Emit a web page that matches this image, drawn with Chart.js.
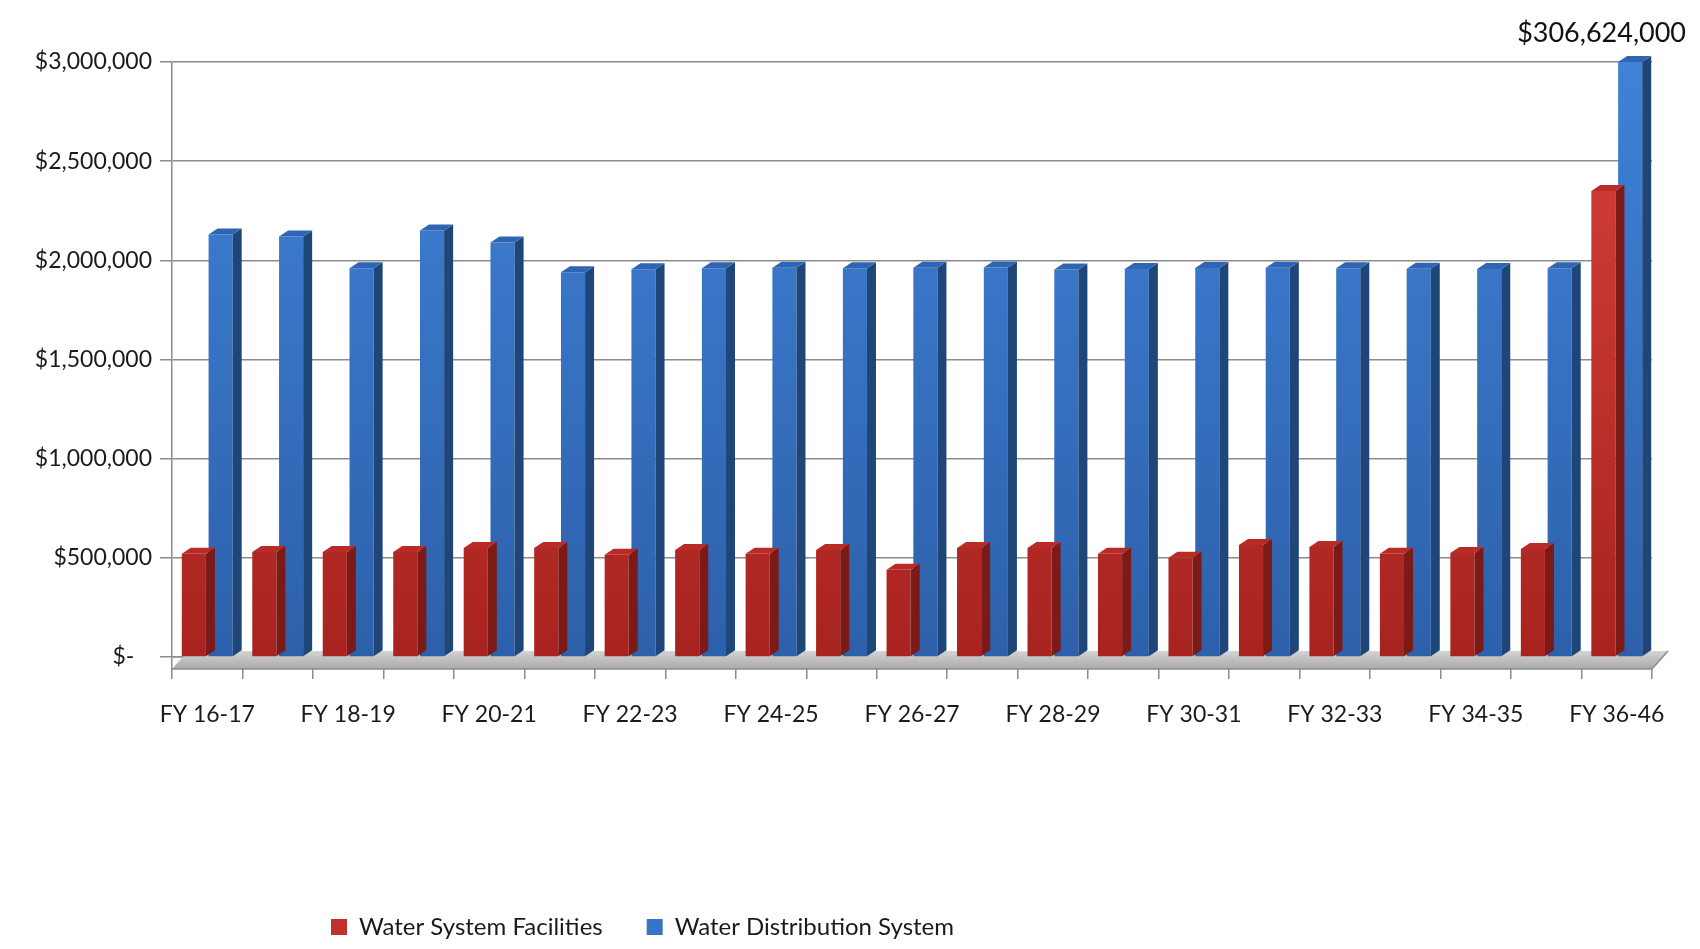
<!DOCTYPE html>
<html>
<head>
<meta charset="utf-8">
<script src="https://cdn.jsdelivr.net/npm/chart.js@4.4.1/dist/chart.umd.min.js"></script>
<style>
  html, body { margin: 0; padding: 0; background: #ffffff; }
  #wrap { width: 1700px; height: 949px; position: relative; }
</style>
</head>
<body>
<div id="wrap"><canvas id="c" width="1700" height="949"></canvas></div>
<script>
// ---- data ----
const categories = [
  'FY 16-17', 'FY 17-18', 'FY 18-19', 'FY 19-20', 'FY 20-21', 'FY 21-22', 'FY 22-23',
  'FY 23-24', 'FY 24-25', 'FY 25-26', 'FY 26-27', 'FY 27-28', 'FY 28-29', 'FY 29-30',
  'FY 30-31', 'FY 31-32', 'FY 32-33', 'FY 33-34', 'FY 34-35', 'FY 35-36', 'FY 36-46'
];
const seriesNames = ['Water System Facilities', 'Water Distribution System'];
const facilities = [
  520000, 530000, 530000, 530000, 550000, 550000, 515000,
  540000, 520000, 540000, 440000, 550000, 550000, 520000,
  500000, 565000, 555000, 520000, 525000, 545000, 2350000
];
const distribution = [
  2130000, 2120000, 1960000, 2150000, 2090000, 1940000, 1955000,
  1960000, 1962000, 1960000, 1962000, 1964000, 1954000, 1956000,
  1961000, 1962000, 1960000, 1958000, 1956000, 1960000, 306624000
];
const yTickValues = [0, 500000, 1000000, 1500000, 2000000, 2500000, 3000000];
const yMax = 3000000;

// ---- styling ----
const FONT = 'Lato';
const faceTop = ['#d8413c', '#3f82d8'];
const faceBottom = ['#a8231f', '#2d60aa'];
const sideCol = ['#7c1a17', '#1f4678'];
const topCol = ['#b92b27', '#2f66b4'];
const legendCol = ['#c0312d', '#3774c8'];
const DX = 9, DY = 6;

function faceGradient(i) {
  return (ctx) => {
    const area = ctx.chart.chartArea;
    if (!area) return legendCol[i];
    const g = ctx.chart.ctx.createLinearGradient(0, area.top, 0, area.bottom);
    g.addColorStop(0, faceTop[i]);
    g.addColorStop(1, faceBottom[i]);
    return g;
  };
}

function money(v) {
  return v === 0 ? '$-   ' : '$' + Number(v).toLocaleString('en-US');
}

const bar3d = {
  id: 'bar3d',
  beforeDatasetsDraw(chart) {
    const { ctx, chartArea: a } = chart;
    ctx.save();
    const g = ctx.createLinearGradient(0, a.bottom - DY, 0, a.bottom + 12);
    g.addColorStop(0, '#d4d4d4');
    g.addColorStop(1, '#a9a9a9');
    ctx.fillStyle = g;
    ctx.beginPath();
    ctx.moveTo(a.left, a.bottom + 12);
    ctx.lineTo(a.right, a.bottom + 12);
    ctx.lineTo(a.right + 16, a.bottom - DY);
    ctx.lineTo(a.left + 16, a.bottom - DY);
    ctx.closePath();
    ctx.fill();
    ctx.strokeStyle = '#8c8c8c';
    ctx.lineWidth = 1.5;
    ctx.beginPath();
    ctx.moveTo(a.left, a.bottom + 12);
    ctx.lineTo(a.right, a.bottom + 12);
    ctx.lineTo(a.right + 16, a.bottom - DY);
    ctx.stroke();
    ctx.restore();
  },
  afterDatasetsDraw(chart) {
    const { ctx, chartArea: a } = chart;
    ctx.save();
    [1, 0].forEach((di) => {
      const meta = chart.getDatasetMeta(di);
      meta.data.forEach((el) => {
        const p = el.getProps(['x', 'y', 'base', 'width'], true);
        const top = Math.max(p.y, a.top);
        const l = p.x - p.width / 2, r = p.x + p.width / 2;
        ctx.fillStyle = sideCol[di];
        ctx.beginPath();
        ctx.moveTo(r, top);
        ctx.lineTo(r + DX, top - DY);
        ctx.lineTo(r + DX, p.base - DY);
        ctx.lineTo(r, p.base);
        ctx.closePath();
        ctx.fill();
        ctx.fillStyle = topCol[di];
        ctx.beginPath();
        ctx.moveTo(l, top);
        ctx.lineTo(l + DX, top - DY);
        ctx.lineTo(r + DX, top - DY);
        ctx.lineTo(r, top);
        ctx.closePath();
        ctx.fill();
      });
    });
    ctx.restore();
  },
  afterDraw(chart) {
    // value labels for bars that run past the top of the axis
    const { ctx, chartArea: a } = chart;
    ctx.save();
    ctx.font = '27px ' + FONT;
    ctx.fillStyle = '#111111';
    ctx.textAlign = 'center';
    ctx.textBaseline = 'alphabetic';
    chart.data.datasets.forEach((ds, di) => {
      const meta = chart.getDatasetMeta(di);
      ds.data.forEach((v, i) => {
        if (v <= yMax) return;
        const el = meta.data[i];
        const txt = '$' + v.toLocaleString('en-US');
        const w = ctx.measureText(txt).width;
        const x = Math.min(el.x, chart.width - 14 - w / 2);
        ctx.fillText(txt, x, a.top - 20);
      });
    });
    ctx.restore();
  }
};

const legendShift = {
  id: 'legendShift',
  afterLayout(chart) {
    const lg = chart.legend;
    if (!lg || !lg.lineWidths) return;
    const pad = lg.options.labels.padding;
    const startX = 331;
    lg.left = startX - pad;
    lg.right = lg.left + pad + lg.lineWidths[0];
    lg.width = lg.right - lg.left;
  }
};

function build() {
  new Chart(document.getElementById('c'), {
    type: 'bar',
    data: {
      labels: categories,
      datasets: [
        {
          label: seriesNames[0],
          data: facilities,
          backgroundColor: faceGradient(0),
          borderWidth: 0,
          categoryPercentage: 0.76,
          barPercentage: 0.9
        },
        {
          label: seriesNames[1],
          data: distribution,
          backgroundColor: faceGradient(1),
          borderWidth: 0,
          categoryPercentage: 0.76,
          barPercentage: 0.9
        }
      ]
    },
    options: {
      responsive: false,
      animation: false,
      devicePixelRatio: 1,
      layout: { padding: { top: 62, right: 48, left: 0, bottom: 0 } },
      plugins: {
        tooltip: { enabled: false },
        legend: {
          position: 'bottom',
          align: 'start',
          labels: {
            font: { family: FONT, size: 24 },
            color: '#1a1a1a',
            boxWidth: 16,
            boxHeight: 16,
            padding: 44,
            generateLabels(chart) {
              const items = Chart.defaults.plugins.legend.labels.generateLabels(chart);
              items.forEach((it, i) => { it.fillStyle = legendCol[i]; it.strokeStyle = legendCol[i]; it.lineWidth = 0; });
              return items;
            }
          }
        }
      },
      scales: {
        x: {
          grid: { display: true, drawOnChartArea: false, offset: true, tickLength: 22, color: '#8c8c8c', lineWidth: 1.5 },
          border: { display: true, color: '#8c8c8c', width: 1.5 },
          ticks: {
            autoSkip: false,
            maxRotation: 0,
            minRotation: 0,
            padding: 22,
            color: '#1a1a1a',
            font: { family: FONT, size: 23 },
            callback: (v, i) => (i % 2 === 0 ? categories[i] : '')
          },
          afterFit: (s) => { s.height = 214; }
        },
        y: {
          min: 0,
          max: yMax,
          afterBuildTicks: (s) => { s.ticks = yTickValues.map((v) => ({ value: v })); },
          grid: { color: '#8c8c8c', lineWidth: 1.5, tickLength: 12 },
          border: { display: true, color: '#8c8c8c', width: 1.5 },
          ticks: {
            padding: 8,
            color: '#1a1a1a',
            font: { family: FONT, size: 23 },
            callback: (v) => money(v)
          },
          afterFit: (s) => { s.width = 172; }
        }
      }
    },
    plugins: [bar3d, legendShift]
  });
}

if (document.fonts && document.fonts.load) {
  Promise.all([document.fonts.load('23px Lato'), document.fonts.load('27px Lato')]).then(build, build);
} else {
  build();
}
</script>
</body>
</html>
